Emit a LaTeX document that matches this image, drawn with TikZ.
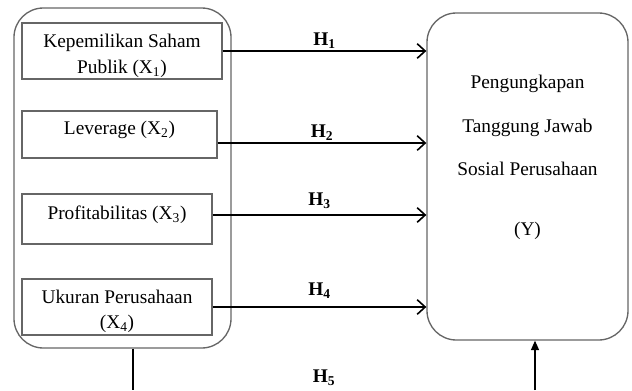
\documentclass[tikz,border=0pt]{standalone}
\usepackage{fontspec}
\setmainfont{Liberation Serif}
\usetikzlibrary{arrows.meta,positioning}

\begin{document}
\begin{tikzpicture}[x=0.75pt,y=-0.75pt,semithick,
                    font=\fontsize{14.5}{19}\selectfont]
  \tikzstyle{group}=[draw=black!60,line width=1pt,rounded corners=22pt,inner sep=0pt]
  \tikzstyle{var}=[draw=black!60,line width=1pt,rectangle,align=center,inner sep=0pt]
  \tikzstyle{hyp}=[-{Straight Barb[length=6pt,width=11pt,line width=1.2pt]},line width=1.3pt]
  \tikzstyle{hlab}=[font=\fontsize{14.5}{19}\selectfont\bfseries,inner sep=1pt]

  \useasboundingbox (0,0) rectangle (632,390);

  \node[group,minimum width=162.75pt,minimum height=255pt] (grp) at (122.5,178) {};
  \node[var,minimum width=150pt,minimum height=42pt,text height=36.5pt] (b1) at (122,51)
        {Kepemilikan Saham\\Publik (X\textsubscript{1})};
  \node[var,minimum width=146.25pt,minimum height=35.25pt,text depth=10pt] (b2) at (119.5,134.5)
        {Leverage (X\textsubscript{2})};
  \node[var,minimum width=142.5pt,minimum height=37.5pt,text depth=9pt] (b3) at (117,219)
        {Profitabilitas (X\textsubscript{3})};
  \node[var,minimum width=142.5pt,minimum height=42pt,text height=35.5pt] (b4) at (117,307)
        {Ukuran Perusahaan\\(X\textsubscript{4})};

  \node[group,minimum width=150.75pt,minimum height=245.25pt,align=center,text depth=32pt] (y) at (527.5,176.5)
        {Pengungkapan\\[14.5pt]Tanggung Jawab\\[13pt]Sosial Perusahaan\\[26pt](Y)};

  \draw[hyp] (b1.east) -- (b1.east -| y.west) node[hlab,pos=0.5,above=0pt] {H\textsubscript{1}};
  \draw[hyp] ([yshift=-6.4pt]b2.east) -- ([yshift=-6.4pt]b2.east -| y.west) node[hlab,pos=0.5,above=0pt] {H\textsubscript{2}};
  \draw[hyp] ([yshift=3pt]b3.east) -- ([yshift=3pt]b3.east -| y.west) node[hlab,pos=0.5,above=3pt] {H\textsubscript{3}};
  \draw[hyp] (b4.east) -- (b4.east -| y.west) node[hlab,pos=0.5,above=5pt] {H\textsubscript{4}};

  % lines to the bottom edge
  \coordinate (xb) at (133,390);
  \coordinate (yb) at (535,390);
  \node[hlab] (h5) at (324,378) {H\textsubscript{5}};
  \draw[line width=0.8pt] (xb |- grp.south) -- (xb);
  \draw[line width=0.8pt,-{Triangle[length=7pt,width=6pt]}] (yb) -- (yb |- y.south);
\end{tikzpicture}
\end{document}
